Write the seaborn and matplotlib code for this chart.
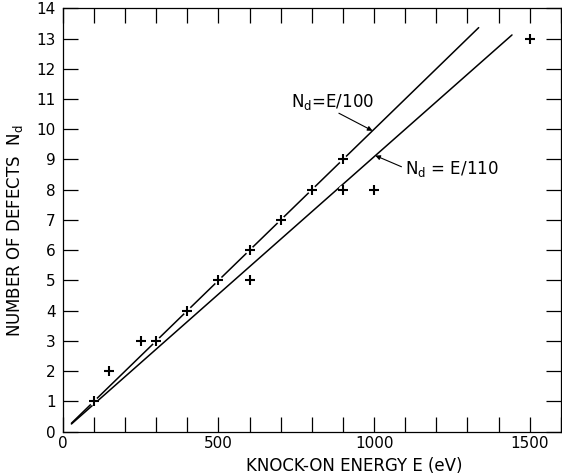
import matplotlib
matplotlib.use("Agg")
import matplotlib.pyplot as plt
import numpy as np
import pandas as pd
import seaborn as sns

# Measured knock-on energies (eV) and numbers of defects
energy = [100, 150, 250, 300, 400, 500, 600, 600, 700, 800, 900, 900, 1000, 1500]
defects = [1, 2, 3, 3, 4, 5, 6, 5, 7, 8, 9, 8, 8, 13]

# Linear relations N_d = E / k, drawn over the stated energy spans
divisors = [100, 110]
line_start = [28, 28]
line_end = [1336, 1443]
line_labels = ["N$_\\mathregular{d}$=E/100", "N$_\\mathregular{d}$ = E/110"]

x_ticks = list(range(0, 1601, 100))
x_labels = ["0", "500", "1000", "1500"]
y_ticks = list(range(0, 15))

sns.set_theme(style="ticks")
plt.rcParams["font.family"] = ["DejaVu Sans"]
plt.rcParams["mathtext.default"] = "regular"
for key in ("text.color", "axes.labelcolor", "xtick.color", "ytick.color",
            "axes.edgecolor"):
    plt.rcParams[key] = "black"

fig = plt.figure(figsize=(5.62, 4.76), dpi=100)
ax = fig.add_axes([0.1116, 0.0931, 0.8864, 0.8895])

rows = []
for k, e0, e1 in zip(divisors, line_start, line_end):
    for e in (e0, e1):
        rows.append({"E": e, "N": e / k, "rel": f"E/{k}"})
lines_df = pd.DataFrame(rows)
sns.lineplot(data=lines_df, x="E", y="N", units="rel", estimator=None,
             color="black", linewidth=1.1, ax=ax, zorder=2, legend=False)

pts = pd.DataFrame({"E": energy, "N": defects})
# white discs break the lines where a measurement sits on them
sns.scatterplot(data=pts, x="E", y="N", marker="o", s=38, color="white",
                edgecolor="none", linewidth=0, ax=ax, zorder=3)
sns.scatterplot(data=pts, x="E", y="N", marker="+", s=48, color="black",
                linewidth=1.5, ax=ax, zorder=4)

ax.set_xlim(0, 1600)
ax.set_ylim(0, 14)
ax.set_xticks(x_ticks)
ax.set_xticklabels([str(t) if str(t) in x_labels else "" for t in x_ticks])
ax.set_yticks(y_ticks)
ax.set_yticklabels([str(t) for t in y_ticks])

ax.tick_params(axis="both", which="both", direction="in", length=11, width=0.9,
               top=True, right=True, labelsize=11, color="black",
               labelcolor="black")
ax.tick_params(axis="x", pad=3)
ax.tick_params(axis="y", pad=5)
for s in ax.spines.values():
    s.set_linewidth(0.9)
    s.set_color("black")

ax.set_xlabel("KNOCK-ON ENERGY E (eV)", fontsize=12, color="black")
ax.xaxis.set_label_coords(0.585, -0.059)
ax.set_ylabel("NUMBER OF DEFECTS  N$_\\mathregular{d}$", fontsize=12,
              color="black")
ax.yaxis.set_label_coords(-0.076, 0.476)

# Labels for the two relations with leader arrows
text_pos = [(733, 10.74), (1098, 8.52)]
arrow_tail = [(887, 10.53), (1088, 8.76)]
arrow_tip = [(995, 9.95), (1004, 9.13)]
for lab, tp, tail, tip in zip(line_labels, text_pos, arrow_tail, arrow_tip):
    ax.text(tp[0], tp[1], lab, fontsize=12, ha="left", va="baseline",
            color="black")
    ax.annotate("", xy=tip, xytext=tail,
                arrowprops=dict(arrowstyle="-|>", color="black", lw=0.8,
                                mutation_scale=7, shrinkA=0, shrinkB=0))

fig.savefig("out.png", dpi=100)
